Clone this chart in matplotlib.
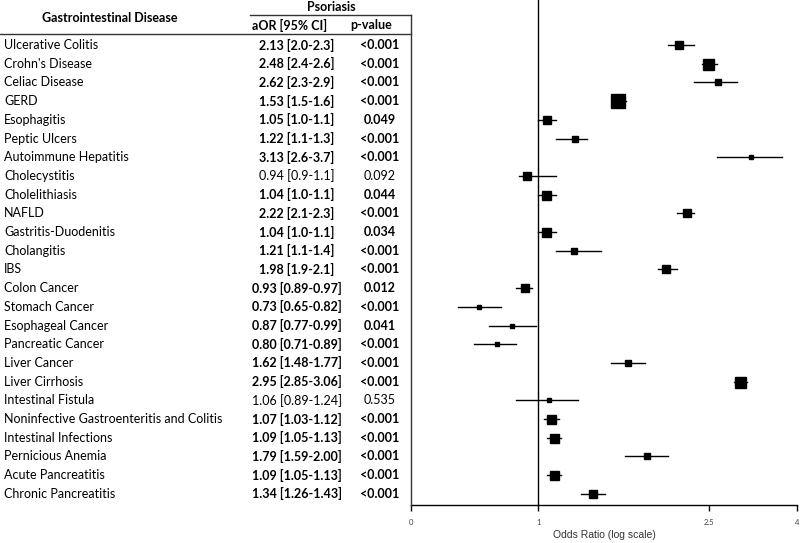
import matplotlib
matplotlib.use('Agg')
import matplotlib.pyplot as plt
from matplotlib.lines import Line2D

plt.rcParams['font.family'] = ['Lato', 'DejaVu Sans']

diseases = ['Ulcerative Colitis', "Crohn's Disease", 'Celiac Disease', 'GERD', 'Esophagitis',
            'Peptic Ulcers', 'Autoimmune Hepatitis', 'Cholecystitis', 'Cholelithiasis', 'NAFLD',
            'Gastritis-Duodenitis', 'Cholangitis', 'IBS', 'Colon Cancer', 'Stomach Cancer',
            'Esophageal Cancer', 'Pancreatic Cancer', 'Liver Cancer', 'Liver Cirrhosis',
            'Intestinal Fistula', 'Noninfective Gastroenteritis and Colitis', 'Intestinal Infections',
            'Pernicious Anemia', 'Acute Pancreatitis', 'Chronic Pancreatitis']
aor = [2.13, 2.48, 2.62, 1.53, 1.05, 1.22, 3.13, 0.94, 1.04, 2.22, 1.04, 1.21, 1.98, 0.93, 0.73,
       0.87, 0.80, 1.62, 2.95, 1.06, 1.07, 1.09, 1.79, 1.09, 1.34]
lo = [2.0, 2.4, 2.3, 1.5, 1.0, 1.1, 2.6, 0.9, 1.0, 2.1, 1.0, 1.1, 1.9, 0.89, 0.65,
      0.77, 0.71, 1.48, 2.85, 0.89, 1.03, 1.05, 1.59, 1.05, 1.26]
hi = [2.3, 2.6, 2.9, 1.6, 1.1, 1.3, 3.7, 1.1, 1.1, 2.3, 1.1, 1.4, 2.1, 0.97, 0.82,
      0.99, 0.89, 1.77, 3.06, 1.24, 1.12, 1.13, 2.00, 1.13, 1.43]
ci_text = ['2.13 [2.0-2.3]', '2.48 [2.4-2.6]', '2.62 [2.3-2.9]', '1.53 [1.5-1.6]', '1.05 [1.0-1.1]',
           '1.22 [1.1-1.3]', '3.13 [2.6-3.7]', '0.94 [0.9-1.1]', '1.04 [1.0-1.1]', '2.22 [2.1-2.3]',
           '1.04 [1.0-1.1]', '1.21 [1.1-1.4]', '1.98 [1.9-2.1]', '0.93 [0.89-0.97]', '0.73 [0.65-0.82]',
           '0.87 [0.77-0.99]', '0.80 [0.71-0.89]', '1.62 [1.48-1.77]', '2.95 [2.85-3.06]',
           '1.06 [0.89-1.24]', '1.07 [1.03-1.12]', '1.09 [1.05-1.13]', '1.79 [1.59-2.00]',
           '1.09 [1.05-1.13]', '1.34 [1.26-1.43]']
pvals = ['<0.001', '<0.001', '<0.001', '<0.001', '0.049', '<0.001', '<0.001', '0.092', '0.044',
         '<0.001', '0.034', '<0.001', '<0.001', '0.012', '<0.001', '0.041', '<0.001', '<0.001',
         '<0.001', '0.535', '<0.001', '<0.001', '<0.001', '<0.001', '<0.001']
# box side in pixels (weight of estimate)
box = [8, 11, 6, 14, 8, 6, 4, 8, 9, 8, 9, 6, 8, 8, 5, 5, 5, 6, 11, 5, 9, 9, 6, 9, 8]
ticks = [0.506, 1, 2.5, 4]
tick_labels = ['0', '1', '2.5', '4']

W, H = 800, 543
fig = plt.figure(figsize=(8, 5.43), dpi=100)

row0, step = 45, 18.7
ax = fig.add_axes([411 / W, 1 - 505 / H, (797 - 411) / W, 505 / H])
ax.set_xscale('log')
ax.set_xlim(0.506, 4)
ax.set_ylim((505 - row0) / step, -row0 / step)

for i in range(len(diseases)):
    ax.plot([lo[i], hi[i]], [i, i], color='black', lw=1)
    ax.plot(aor[i], i, marker='s', color='black', markersize=box[i] * 0.72, linestyle='none')
ax.axvline(1, color='black', lw=1)

for s in ['top', 'right', 'left']:
    ax.spines[s].set_visible(False)
ax.spines['bottom'].set_linewidth(1)
ax.set_yticks([])
ax.set_xticks(ticks)
ax.set_xticklabels(tick_labels, fontsize=5.5, color='#444444')
ax.xaxis.set_minor_locator(plt.NullLocator())
ax.tick_params(axis='x', length=4, width=1, pad=6)
ax.set_xlabel('Odds Ratio (log scale)', fontsize=7.5, color='#333333', labelpad=3,
              family=['Liberation Sans'])

# table
fig.add_artist(Line2D([0, 411 / W], [1 - 34 / H, 1 - 34 / H], color='#333333', lw=1))
fig.add_artist(Line2D([250 / W, 411 / W], [1 - 15 / H, 1 - 15 / H], color='#333333', lw=1))
fig.add_artist(Line2D([411 / W, 411 / W], [1 - 15 / H, 1 - 505 / H], color='#333333', lw=1))

fig.text(110 / W, 1 - 18 / H, 'Gastrointestinal Disease', ha='center', va='center',
         fontsize=9, fontweight='bold')
fig.text(331 / W, 1 - 7 / H, 'Psoriasis', ha='center', va='center', fontsize=9, fontweight='bold')
fig.text(290 / W, 1 - 25 / H, 'aOR [95% CI]', ha='center', va='center', fontsize=9, fontweight='bold')
fig.text(371 / W, 1 - 25 / H, 'p-value', ha='center', va='center', fontsize=9, fontweight='bold')

for i in range(len(diseases)):
    y = 1 - (row0 + i * step) / H
    sig = pvals[i] != '0.092' and pvals[i] != '0.535'
    wt = 'bold' if sig else 'normal'
    fig.text(4 / W, y, diseases[i], ha='left', va='center', fontsize=9)
    fig.text(297 / W, y, ci_text[i], ha='center', va='center', fontsize=9, fontweight=wt)
    fig.text(380 / W, y, pvals[i], ha='center', va='center', fontsize=9, fontweight=wt)

fig.savefig('out.png', dpi=100)
